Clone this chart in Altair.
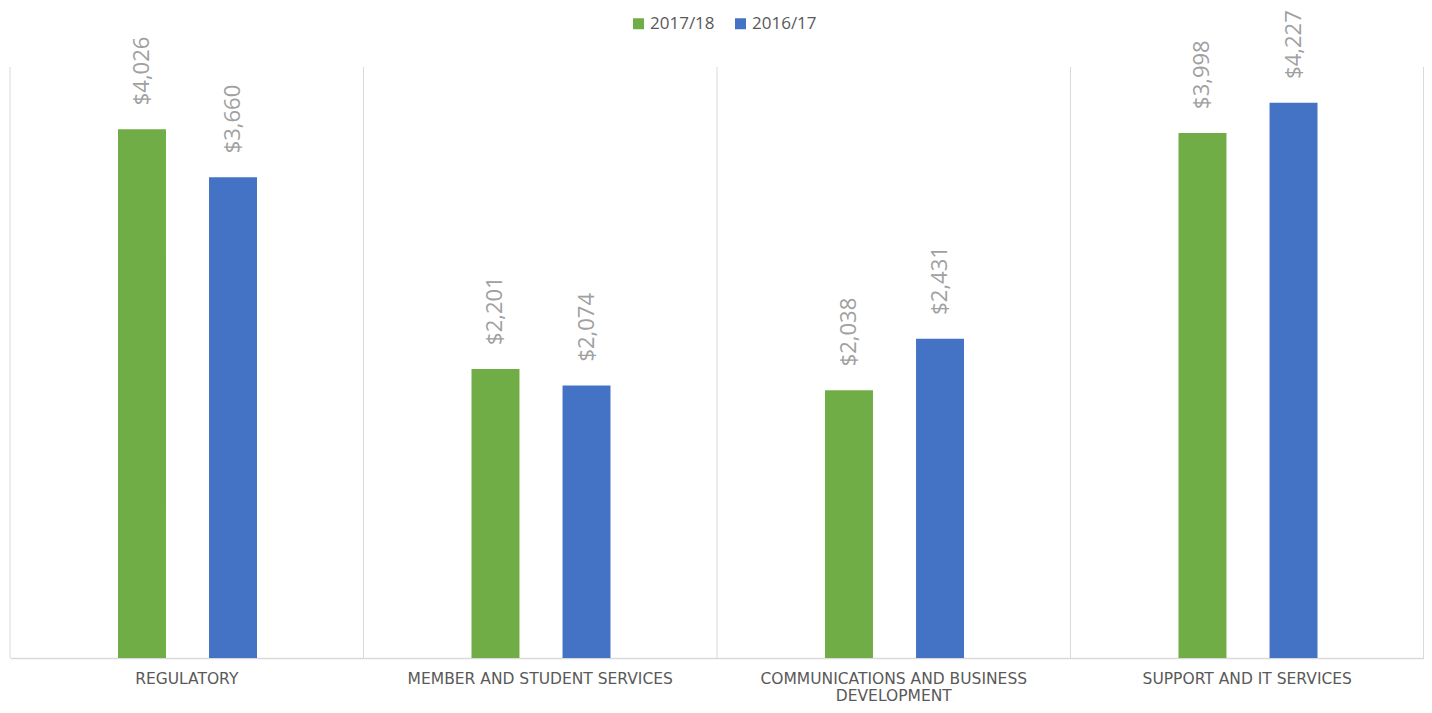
import altair as alt
import pandas as pd

categories = ["REGULATORY", "MEMBER AND STUDENT SERVICES",
              "COMMUNICATIONS AND BUSINESS DEVELOPMENT", "SUPPORT AND IT SERVICES"]
series = ["2017/18", "2016/17"]
values_2017_18 = [4026, 2201, 2038, 3998]
values_2016_17 = [3660, 2074, 2431, 4227]
colors = ["#70AD47", "#4472C4"]

rows = []
for i, c in enumerate(categories):
    rows.append({"category": c, "year": series[0], "value": values_2017_18[i]})
    rows.append({"category": c, "year": series[1], "value": values_2016_17[i]})
df = pd.DataFrame(rows)
cat_df = pd.DataFrame({"category": categories})

W, H = 1414, 591

x_enc = alt.X("category:N", sort=categories,
              scale=alt.Scale(paddingInner=0, paddingOuter=0),
              axis=alt.Axis(title=None, labelAngle=0, labelAlign="center", ticks=False,
                            grid=False, domainColor="#D9D9D9", domainWidth=1.5,
                            labelColor="#595959", labelFont="DejaVu Sans",
                            labelFontSize=15.5, labelPadding=20, labelLineHeight=17,
                            labelLimit=400,
                            labelExpr="datum.value == 'COMMUNICATIONS AND BUSINESS DEVELOPMENT' ? ['COMMUNICATIONS AND BUSINESS', 'DEVELOPMENT'] : datum.value"))
xoff = alt.XOffset("year:N", sort=series,
                   scale=alt.Scale(domain=series, range=[108, 247],
                                   paddingInner=0.473, paddingOuter=0))
y_enc = alt.Y("value:Q", scale=alt.Scale(domain=[0, 4500]), axis=None)

grid = alt.Chart(cat_df).mark_rule(color="#D9D9D9", strokeWidth=1).encode(
    x=alt.X("category:N", sort=categories, bandPosition=0)
)
grid_right = alt.Chart(cat_df).mark_rule(color="#D9D9D9", strokeWidth=1).encode(
    x=alt.value(W - 0.5)
)

bars = alt.Chart(df).mark_bar().encode(
    x=x_enc,
    xOffset=xoff,
    y=y_enc,
    color=alt.Color("year:N", sort=series,
                    scale=alt.Scale(domain=series, range=colors),
                    legend=alt.Legend(title=None, orient="none", direction="horizontal",
                                      legendX=620, legendY=-52, symbolType="square",
                                      symbolSize=121, symbolStrokeWidth=0,
                                      labelColor="#595959", labelFont="Open Sans",
                                      labelFontSize=17, labelOffset=3, columnPadding=17,
                                      padding=0)),
)

labels = alt.Chart(df).mark_text(angle=270, align="left", baseline="middle", dx=24,
                                 color="#A0A0A0", font="Open Sans", fontSize=22).encode(
    x=alt.X("category:N", sort=categories),
    xOffset=xoff,
    y=y_enc,
    text=alt.Text("value:Q", format="$,.0f"),
)

chart = alt.layer(grid, grid_right, bars, labels).properties(
    width=W, height=H,
    padding={"left": 2, "top": 59, "right": 0, "bottom": 47},
    autosize=alt.AutoSizeParams(type="none"),
).configure_view(stroke=None)

chart.save("out.html", embed_options={"renderer": "svg", "actions": False})
